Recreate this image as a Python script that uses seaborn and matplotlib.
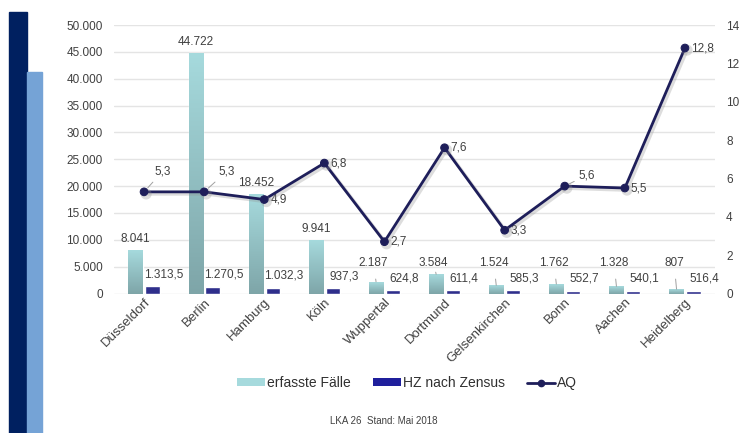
import numpy as np
import pandas as pd
import matplotlib
matplotlib.use("Agg")
import matplotlib.pyplot as plt
import matplotlib.patheffects as pe
from matplotlib.patches import Rectangle
from matplotlib.lines import Line2D
from matplotlib.patches import Patch
from matplotlib.colors import LinearSegmentedColormap
import seaborn as sns

# --- data ---------------------------------------------------------------
staedte = ["Düsseldorf", "Berlin", "Hamburg", "Köln", "Wuppertal",
           "Dortmund", "Gelsenkirchen", "Bonn", "Aachen", "Heidelberg"]
faelle = [8041, 44722, 18452, 9941, 2187, 3584, 1524, 1762, 1328, 807]
hz = [1313.5, 1270.5, 1032.3, 937.3, 624.8, 611.4, 585.3, 552.7, 540.1, 516.4]
aq = [5.3, 5.3, 4.9, 6.8, 2.7, 7.6, 3.3, 5.6, 5.5, 12.8]
left_ticks = [0, 5000, 10000, 15000, 20000, 25000, 30000, 35000, 40000, 45000, 50000]
right_ticks = [0, 2, 4, 6, 8, 10, 12, 14]

TEAL = "#a6dadd"
TEAL_DARK = "#7ea5a8"
BLUE = "#1f1f9c"
NAVY = "#1e1e5a"
TXT = "#404040"


def de_int(v):
    return f"{v:,.0f}".replace(",", ".")


def de_dec(v):
    s = f"{v:,.1f}"
    return s.replace(",", "X").replace(".", ",").replace("X", ".")


sns.set_theme(style="white")
plt.rcParams["font.family"] = ["Liberation Sans", "DejaVu Sans"]

fig = plt.figure(figsize=(7.39, 4.33), dpi=100)
fig.patch.set_facecolor("white")

# decorative side strips
fig.patches.append(Rectangle((9 / 739, 0), 18 / 739, 1 - 12 / 433,
                             transform=fig.transFigure, color="#002060", zorder=0))
fig.patches.append(Rectangle((27 / 739, 0), 15 / 739, 1 - 72 / 433,
                             transform=fig.transFigure, color="#75a3d6", zorder=0))

ax = fig.add_axes([114 / 739, 1 - 293.5 / 433, 601 / 739, 268.5 / 433])

df = pd.DataFrame({
    "Stadt": staedte * 2,
    "Wert": faelle + hz,
    "Serie": ["erfasste Fälle"] * len(staedte) + ["HZ nach Zensus"] * len(staedte),
})
sns.barplot(data=df, x="Stadt", y="Wert", hue="Serie",
            palette={"erfasste Fälle": TEAL, "HZ nach Zensus": BLUE},
            width=0.56, gap=0.15, ax=ax, legend=False, zorder=2)

ax.set_xlim(-0.5, len(staedte) - 0.5)
ax.set_ylim(0, 50000)
ax.set_yticks(left_ticks)
ax.set_yticklabels([de_int(v) for v in left_ticks], fontsize=8.5, color=TXT)
ax.set_xlabel("")
ax.set_ylabel("")
ax.tick_params(axis="x", length=0, pad=2)
ax.tick_params(axis="y", length=0, pad=8)
plt.setp(ax.get_xticklabels(), rotation=45, ha="right", rotation_mode="anchor",
         fontsize=9.5, color=TXT)
for s in ax.spines.values():
    s.set_visible(False)
ax.grid(axis="y", color="#e4e4e4", linewidth=1)
ax.set_axisbelow(True)

# gradient fill for the case bars
cmap = LinearSegmentedColormap.from_list("teal", [TEAL_DARK, TEAL])
grad = np.linspace(0, 1, 256).reshape(-1, 1)
n = len(staedte)
teal_patches = ax.patches[:n]
blue_patches = ax.patches[n:2 * n]
for p in teal_patches:
    x0, w, h = p.get_x(), p.get_width(), p.get_height()
    im = ax.imshow(grad, extent=(x0, x0 + w, 0, h), origin="lower",
                   cmap=cmap, aspect="auto", zorder=2.5)
    im.set_clip_path(p)
ax.set_xlim(-0.5, n - 0.5)
ax.set_ylim(0, 50000)

# labels for case counts
min_label = 5700
for p, v in zip(teal_patches, faelle):
    xc = p.get_x() + p.get_width() / 2
    lift = v < min_label - 2000
    if lift:
        ax.annotate(de_int(v), xy=(xc, v), xytext=(xc - 0.04, min_label),
                    textcoords="data", ha="center", va="center",
                    fontsize=8.5, color=TXT,
                    arrowprops=dict(arrowstyle="-", color="#a0a0a0", lw=0.7,
                                    shrinkA=5, shrinkB=0))
    else:
        ax.annotate(de_int(v), xy=(xc, v), xytext=(0, 11),
                    textcoords="offset pixels", ha="center", va="center",
                    fontsize=8.5, color=TXT)

# labels for HZ values
for p, v in zip(blue_patches, hz):
    xc = p.get_x() + p.get_width() / 2
    ax.annotate(de_dec(v), xy=(xc, v), xytext=(11, 12),
                textcoords="offset pixels", ha="center", va="center",
                fontsize=8.5, color=TXT)

# AQ line on the secondary axis
ax2 = ax.twinx()
line_df = pd.DataFrame({"Stadt": staedte, "AQ": aq})
sns.lineplot(data=line_df, x="Stadt", y="AQ", ax=ax2, color=NAVY,
             linewidth=2, marker="o", markersize=5.5, markeredgecolor=NAVY,
             sort=False, zorder=5)
for ln in ax2.lines:
    ln.set_path_effects([pe.SimpleLineShadow(offset=(1.5, -1.5), shadow_color="#909090",
                                             alpha=0.3, linewidth=2.5),
                         pe.Normal()])
ax2.set_ylim(0, 14)
ax2.set_xlim(-0.5, n - 0.5)
ax2.set_yticks(right_ticks)
ax2.set_yticklabels([str(v) for v in right_ticks], fontsize=8.5, color=TXT)
ax2.tick_params(axis="y", length=0, pad=8)
ax2.set_ylabel("")
ax2.set_xlabel("")
ax2.grid(False)
for s in ax2.spines.values():
    s.set_visible(False)

# AQ value labels; a few sit above with a leader line
raised = {0: (10, 20), 1: (14, 20), 7: (14, 11)}
for i, v in enumerate(aq):
    txt = de_dec(v)
    if i in raised:
        dx, dy = raised[i]
        ax2.annotate(txt, xy=(i, v), xytext=(dx, dy), textcoords="offset pixels",
                     ha="left", va="center", fontsize=8.5, color=TXT,
                     arrowprops=dict(arrowstyle="-", color="#a0a0a0", lw=0.7,
                                     shrinkA=1, shrinkB=4))
    else:
        ax2.annotate(txt, xy=(i, v), xytext=(6, 0), textcoords="offset pixels",
                     ha="left", va="center", fontsize=8.5, color=TXT)

# legend
handles = [
    Patch(facecolor=TEAL, edgecolor="none"),
    Patch(facecolor=BLUE, edgecolor="none"),
    Line2D([0], [0], color=NAVY, lw=2, marker="o", markersize=4.5),
]
fig.legend(handles, ["erfasste Fälle", "HZ nach Zensus", "AQ"],
           loc="center", bbox_to_anchor=(407 / 739, 1 - 383 / 433), ncol=3,
           frameon=False, fontsize=10, handlelength=2.0, handleheight=0.45,
           handletextpad=0.15, columnspacing=1.6, labelcolor="#303030")

fig.text(384 / 739, 1 - 421 / 433, "LKA 26  Stand: Mai 2018", ha="center",
         va="center", fontsize=7, color="#404040")

fig.savefig("out.png", dpi=100, facecolor="white")
